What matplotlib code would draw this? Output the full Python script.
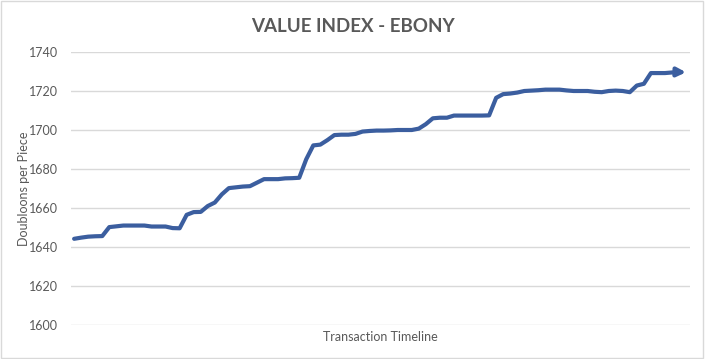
import matplotlib.pyplot as plt
import numpy as np
from matplotlib.patches import Rectangle

# value per transaction
values = [1644.2, 1644.8, 1645.3, 1645.5, 1645.6, 1650.2, 1650.6, 1651.0, 1651.0, 1651.0,
          1651.0, 1650.5, 1650.5, 1650.5, 1649.7, 1649.6, 1656.5, 1657.9, 1658.0, 1661.0,
          1662.8, 1667.0, 1670.2, 1670.6, 1671.0, 1671.2, 1673.0, 1674.8, 1674.8, 1674.8,
          1675.2, 1675.3, 1675.5, 1685.0, 1692.1, 1692.5, 1694.8, 1697.4, 1697.6, 1697.6,
          1698.0, 1699.2, 1699.5, 1699.7, 1699.7, 1699.8, 1700.0, 1700.0, 1700.0, 1700.7,
          1703.0, 1706.0, 1706.3, 1706.3, 1707.4, 1707.4, 1707.4, 1707.4, 1707.4, 1707.5,
          1716.5, 1718.4, 1718.7, 1719.2, 1720.0, 1720.2, 1720.4, 1720.7, 1720.7, 1720.7,
          1720.3, 1720.0, 1720.0, 1720.0, 1719.6, 1719.4, 1720.0, 1720.2, 1720.0, 1719.4,
          1722.8, 1723.7, 1729.2, 1729.2, 1729.2, 1729.5, 1729.7, 1729.6]
yticks = [1600, 1620, 1640, 1660, 1680, 1700, 1720, 1740]

plt.rcParams['font.family'] = ['Lato', 'DejaVu Sans']
grey = '#595959'
blue = '#3B5E9F'

fig = plt.figure(figsize=(7.05, 3.59), dpi=100)
ax = fig.add_axes([70.6 / 705, 34 / 359, 619 / 705, 273 / 359])

x = np.arange(len(values))
ax.plot(x[:-1], values[:-1], color=blue, linewidth=3, solid_joinstyle='round',
        solid_capstyle='round', zorder=3)
ax.annotate('', xy=(x[-1], values[-1]), xytext=(x[-2], values[-2]),
            arrowprops=dict(arrowstyle='-|>,head_length=0.5,head_width=0.25',
                            color=blue, lw=3, shrinkA=0, shrinkB=0), zorder=3)

ax.set_xlim(-0.5, len(values) - 0.5)
ax.set_ylim(1600, 1740)
ax.set_yticks(yticks)
ax.set_xticks([])
ax.grid(axis='y', color='#D9D9D9', linewidth=1)
ax.set_axisbelow(True)
for s in ax.spines.values():
    s.set_visible(False)
ax.tick_params(axis='y', length=0, pad=9, labelsize=9, labelcolor=grey)

ax.set_ylabel('Doubloons per Piece', fontsize=9, color=grey)
ax.yaxis.set_label_coords(-0.066, 0.5)
ax.set_xlabel('Transaction Timeline', fontsize=9, color=grey, labelpad=4)
fig.text(0.5, 0.927, 'VALUE INDEX - EBONY', ha='center', va='center',
         fontsize=13.5, fontweight='bold', color=grey)

fig.patches.append(Rectangle((0.002, 0.003), 0.995, 0.994, transform=fig.transFigure,
                             fill=False, edgecolor='#D9D9D9', linewidth=1))

fig.savefig('out.png', dpi=100)
